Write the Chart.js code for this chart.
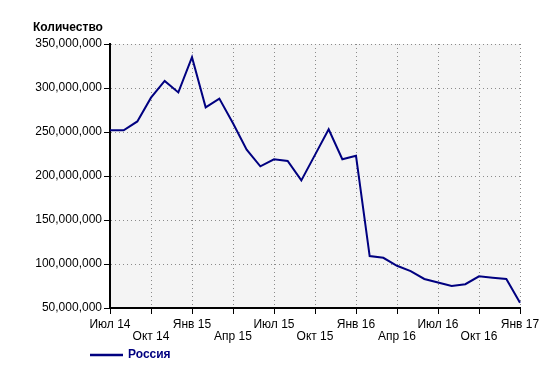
<!DOCTYPE html>
<html><head><meta charset="utf-8">
<script src="https://cdn.jsdelivr.net/npm/chart.js@4/dist/chart.umd.min.js"></script>
<style>html,body{margin:0;padding:0;background:#fff}#wrap{width:552px;height:372px}</style>
</head><body><div id="wrap"><canvas id="c" width="552" height="372"></canvas></div>
<script>
const months = ["Июл 14","Авг 14","Сен 14","Окт 14","Ноя 14","Дек 14","Янв 15","Фев 15","Мар 15","Апр 15","Май 15","Июн 15","Июл 15","Авг 15","Сен 15","Окт 15","Ноя 15","Дек 15","Янв 16","Фев 16","Мар 16","Апр 16","Май 16","Июн 16","Июл 16","Авг 16","Сен 16","Окт 16","Ноя 16","Дек 16","Янв 17"];
const russia = [252000000,252000000,262000000,289000000,308000000,295000000,335000000,278000000,288000000,260000000,230000000,211000000,219000000,217000000,195000000,224000000,253000000,219000000,223000000,109000000,107000000,98000000,92000000,83000000,79000000,75000000,77000000,86000000,84500000,83000000,56000000];
const seriesName = "Россия";
const yTitle = "Количество";

const bgPlugin = {
  id: 'bg',
  beforeDraw(chart) {
    const {ctx, chartArea: a} = chart;
    ctx.save();
    ctx.fillStyle = '#f4f4f4';
    ctx.fillRect(a.left, a.top, a.right - a.left, a.bottom - a.top);
    ctx.restore();
  },
  afterLayout(chart) {
    if (chart.legend) { chart.legend.left = 86; }
  }
};

new Chart(document.getElementById('c'), {
  type: 'line',
  data: {
    labels: months,
    datasets: [{
      label: seriesName,
      data: russia,
      borderColor: '#000080',
      backgroundColor: '#000080',
      borderWidth: 2,
      pointRadius: 0,
      tension: 0,
      fill: false
    }]
  },
  options: {
    responsive: false,
    animation: false,
    devicePixelRatio: 1,
    layout: { padding: { left: 33, right: 32, top: 0, bottom: 1 } },
    plugins: {
      title: {
        display: true, text: yTitle, align: 'start', color: '#000',
        font: { family: 'Liberation Sans, Arial, sans-serif', size: 12, weight: 'bold' },
        padding: { top: 20, bottom: 9.6 }
      },
      legend: {
        display: true, position: 'bottom', align: 'start',
        labels: {
          boxWidth: 31, boxHeight: 0.5, padding: 5, color: '#000080',
          font: { family: 'Liberation Sans, Arial, sans-serif', size: 12, weight: 'bold' }
        }
      },
      tooltip: { enabled: false }
    },
    scales: {
      x: {
        type: 'category',
        offset: false,
        afterFit(s) { s.height = 36; },
        border: { display: true, color: '#000', width: 2, dash: [1, 3] },
        grid: {
          color: '#8a8a8a', lineWidth: 1,
          drawTicks: true, tickLength: 6, tickColor: '#000', tickBorderDash: [], tickWidth: 1
        },
        ticks: {
          autoSkip: false, maxRotation: 0, minRotation: 0, padding: 5, color: '#000',
          font: { family: 'Liberation Sans, Arial, sans-serif', size: 12, lineHeight: 1.0 },
          callback(v, i) {
            if (i % 3 !== 0) return null;
            const l = months[i];
            return (i % 6 === 0) ? [l, ''] : ['', l];
          }
        }
      },
      y: {
        min: 50000000, max: 350000000,
        afterFit(s) { s.width = 77; },
        border: { display: true, color: '#000', width: 2, dash: [1, 3] },
        grid: {
          color: '#8a8a8a', lineWidth: 1,
          drawTicks: true, tickLength: 6, tickColor: '#000', tickBorderDash: [], tickWidth: 1
        },
        ticks: {
          stepSize: 50000000, padding: 2, color: '#000',
          font: { family: 'Liberation Sans, Arial, sans-serif', size: 12 },
          callback(v) { return Number(v).toLocaleString('en-US'); }
        }
      }
    }
  },
  plugins: [bgPlugin]
});
</script></body></html>
